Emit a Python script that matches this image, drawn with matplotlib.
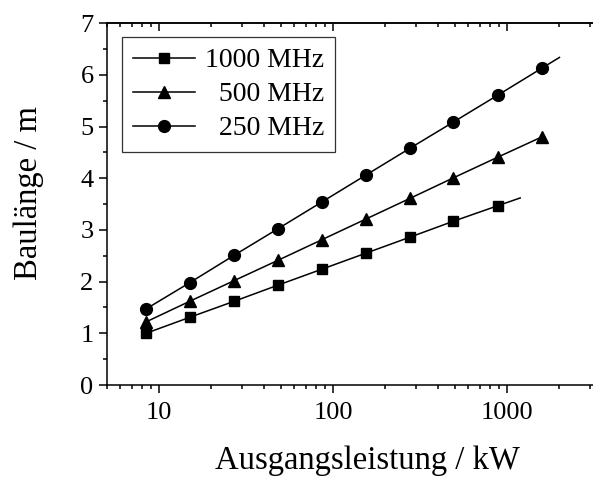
import matplotlib
matplotlib.use("Agg")
import matplotlib.pyplot as plt
from matplotlib.ticker import LogLocator, MultipleLocator, NullFormatter, FixedLocator, FixedFormatter

plt.rcParams['font.family'] = ['Liberation Serif', 'DejaVu Serif']

# Ausgangsleistung / kW
leistung = [8.4, 15, 27, 48, 86, 154, 276, 492, 885, 1582]

# Baulaenge / m
y_1000 = [1.00, 1.31, 1.62, 1.93, 2.24, 2.55, 2.86, 3.17, 3.47]
y_500 = [1.22, 1.62, 2.02, 2.41, 2.81, 3.21, 3.61, 4.01, 4.41, 4.80]
y_250 = [1.47, 1.98, 2.51, 3.02, 3.54, 4.06, 4.58, 5.09, 5.61, 6.13]

# where the lines run on past the last point
ende_1000 = (1190, 3.62)
ende_250 = (2000, 6.34)

labels = ["1000 MHz", "\u2007500 MHz", "\u2007250 MHz"]
xticks = [10, 100, 1000]

W, H = 593, 478
fig = plt.figure(figsize=(W / 100, H / 100), dpi=100)
ax_l, ax_b = 106.7 / W, 1 - 385 / H
ax_w, ax_h = 522 / W, (385 - 23.3) / H
ax = fig.add_axes([ax_l, ax_b, ax_w, ax_h])

kw = dict(color="k", lw=1.1)
ax.plot(leistung[:9], y_1000, marker="s", ms=7, label=labels[0], **kw)
ax.plot([leistung[8], ende_1000[0]], [y_1000[-1], ende_1000[1]], **kw)
ax.plot(leistung, y_500, marker="^", ms=9, label=labels[1], **kw)
ax.plot(leistung, y_250, marker="o", ms=8.5, label=labels[2], **kw)
ax.plot([leistung[-1], ende_250[0]], [y_250[-1], ende_250[1]], **kw)

ax.set_xscale("log")
ax.set_xlim(5, 5000)
ax.set_ylim(0, 7)
ax.xaxis.set_major_locator(FixedLocator(xticks))
ax.xaxis.set_major_formatter(FixedFormatter([str(t) for t in xticks]))
ax.xaxis.set_minor_locator(LogLocator(base=10, subs=range(2, 10), numticks=20))
ax.xaxis.set_minor_formatter(NullFormatter())
ax.yaxis.set_major_locator(MultipleLocator(1))
ax.yaxis.set_minor_locator(MultipleLocator(0.5))

for s in ax.spines.values():
    s.set_linewidth(1.1)
ax.spines["right"].set_visible(False)

ax.tick_params(axis="x", which="both", bottom=True, top=False, direction="out", labelsize=19, width=1.1)
ax.tick_params(axis="x", which="major", length=5.5, pad=6.5)
ax.tick_params(axis="x", which="minor", length=3)
ax.tick_params(axis="y", which="both", left=True, right=False, direction="out", labelsize=19, width=1.1)
ax.tick_params(axis="y", which="major", length=5.5, pad=4)
ax.tick_params(axis="y", which="minor", length=3)

# ticks on the top spine, pointing inward
top = ax.secondary_xaxis("top")
top.set_xscale("log")
top.xaxis.set_major_locator(FixedLocator(xticks))
top.xaxis.set_minor_locator(LogLocator(base=10, subs=range(2, 10), numticks=20))
top.xaxis.set_major_formatter(NullFormatter())
top.xaxis.set_minor_formatter(NullFormatter())
top.tick_params(which="both", direction="in", width=1.1)
top.tick_params(which="major", length=5.5)
top.tick_params(which="minor", length=3)
top.spines["top"].set_linewidth(1.1)

ax.set_ylabel("Baulänge / m", fontsize=23.5)
ax.yaxis.set_label_coords(-0.121, 0.53)
ax.set_xlabel("Ausgangsleistung / kW", fontsize=23.5)
ax.xaxis.set_label_coords(0.5, -0.168)

leg = ax.legend(loc="upper left", bbox_to_anchor=(15 / 522, 1 - 13.4 / 361.7),
                borderaxespad=0, fontsize=20, frameon=True, fancybox=False,
                handlelength=2.25, handletextpad=0.35, labelspacing=0.31,
                borderpad=0.4)
leg.get_frame().set_edgecolor("k")
leg.get_frame().set_linewidth(0.9)

fig.savefig("out.png", dpi=100)
